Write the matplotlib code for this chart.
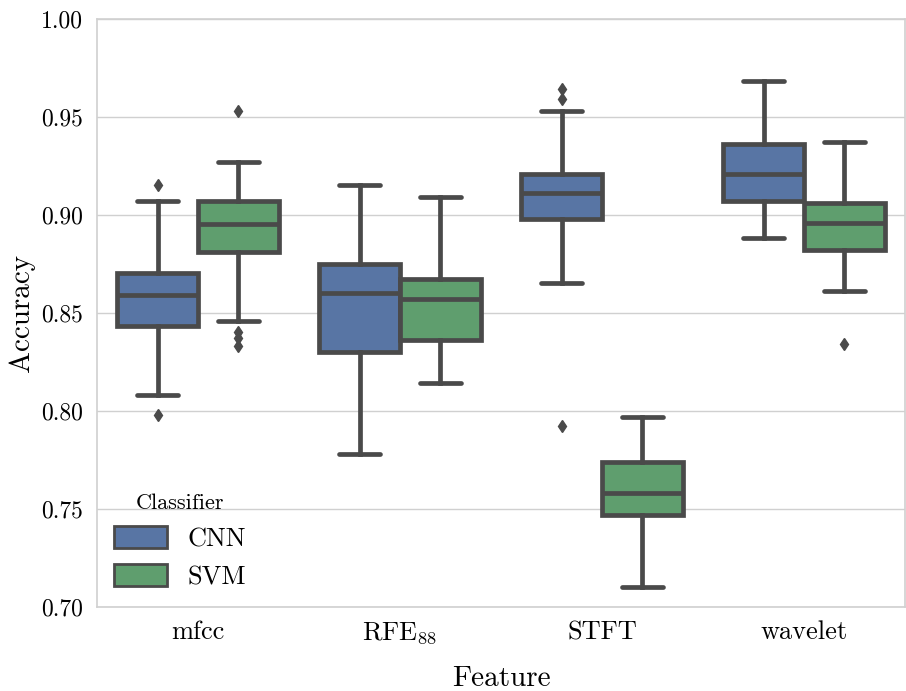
import matplotlib
matplotlib.use("Agg")
import matplotlib.pyplot as plt
from matplotlib.patches import Patch

plt.rcParams["font.family"] = ["cmr10", "DejaVu Serif"]
plt.rcParams["mathtext.fontset"] = "cm"
plt.rcParams["axes.formatter.use_mathtext"] = True
plt.rcParams["axes.unicode_minus"] = False

# categorias e estatisticas
features = ["mfcc", r"RFE$_{88}$", "STFT", "wavelet"]
classifiers = ["CNN", "SVM"]

cnn_whislo = [0.808, 0.778, 0.865, 0.888]
cnn_q1 = [0.843, 0.830, 0.898, 0.907]
cnn_med = [0.859, 0.860, 0.911, 0.921]
cnn_q3 = [0.870, 0.875, 0.921, 0.936]
cnn_whishi = [0.907, 0.915, 0.953, 0.968]
cnn_fliers = [[0.915, 0.798], [], [0.964, 0.959, 0.792], []]

svm_whislo = [0.846, 0.814, 0.710, 0.861]
svm_q1 = [0.881, 0.836, 0.747, 0.882]
svm_med = [0.895, 0.857, 0.758, 0.896]
svm_q3 = [0.907, 0.867, 0.774, 0.906]
svm_whishi = [0.927, 0.909, 0.797, 0.937]
svm_fliers = [[0.953, 0.840, 0.837, 0.833], [], [], [0.834]]

cores = ["#5875a4", "#5f9e6e"]
cinza = "#4a4a4a"


def montar_stats(lo, q1, med, q3, hi, fl):
    saida = []
    for i in range(len(lo)):
        saida.append({"whislo": lo[i], "q1": q1[i], "med": med[i],
                      "q3": q3[i], "whishi": hi[i], "fliers": fl[i]})
    return saida


fig = plt.figure(figsize=(9.06, 6.91), dpi=100)
ax = fig.add_axes([0.107, 0.122, 0.892, 0.851])

grupos = [
    montar_stats(cnn_whislo, cnn_q1, cnn_med, cnn_q3, cnn_whishi, cnn_fliers),
    montar_stats(svm_whislo, svm_q1, svm_med, svm_q3, svm_whishi, svm_fliers),
]
deslocamentos = [-0.2, 0.2]

for stats, desl, cor in zip(grupos, deslocamentos, cores):
    pos = [i + desl for i in range(len(features))]
    ax.bxp(stats, positions=pos, widths=0.4, capwidths=0.2,
           patch_artist=True, manage_ticks=False,
           boxprops=dict(facecolor=cor, edgecolor=cinza, linewidth=3.4),
           medianprops=dict(color=cinza, linewidth=3.4),
           whiskerprops=dict(color=cinza, linewidth=3.4),
           capprops=dict(color=cinza, linewidth=3.4, solid_capstyle="round"),
           flierprops=dict(marker="d", markerfacecolor=cinza,
                           markeredgecolor=cinza, markersize=6.5))

ax.set_xlim(-0.5, len(features) - 0.5)
ax.set_ylim(0.70, 1.00)
ax.set_xticks(range(len(features)))
ax.set_xticklabels(features, fontsize=19)
ax.set_yticks([0.70, 0.75, 0.80, 0.85, 0.90, 0.95, 1.00])
ax.set_yticklabels(["0.70", "0.75", "0.80", "0.85", "0.90", "0.95", "1.00"], fontsize=17)
ax.tick_params(length=0, pad=10)
ax.yaxis.grid(True, color="#d0d0d0", linewidth=1)
ax.set_axisbelow(True)
for s in ax.spines.values():
    s.set_color("#d0d0d0")
    s.set_linewidth(1.2)

ax.set_xlabel("Feature", fontsize=21, labelpad=14)
ax.set_ylabel("Accuracy", fontsize=21, labelpad=4)

alcas = [Patch(facecolor=c, edgecolor=cinza, linewidth=2) for c in cores]
ax.legend(alcas, classifiers, title="Classifier", loc="lower left",
          frameon=False, fontsize=19, title_fontsize=16,
          handlelength=2.0, handleheight=0.9, borderaxespad=0.25,
          labelspacing=0.5)

fig.savefig("out.png", dpi=100)
